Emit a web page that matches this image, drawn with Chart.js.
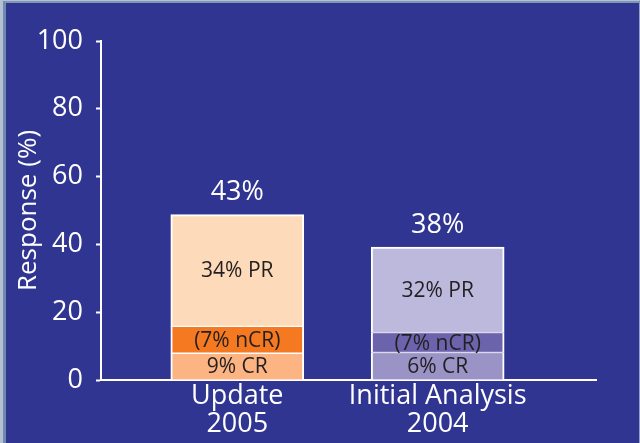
<!DOCTYPE html>
<html><head><meta charset="utf-8">
<script src="https://cdn.jsdelivr.net/npm/chart.js@4"></script>
<style>
html,body{margin:0;padding:0;background:#303592;}
#wrap{position:relative;width:640px;height:443px;overflow:hidden;}
canvas{display:block;}
#frame{position:absolute;left:0;top:0;width:640px;height:443px;box-sizing:border-box;
  border-left:3px solid #B4C1D3;border-top:1px solid #B4C1D3;border-right:1px solid #8FA2BE;pointer-events:none;}
#frame2{position:absolute;left:3px;top:1px;width:637px;height:442px;box-sizing:border-box;
  border-left:3px solid #7089B1;border-top:2px solid #7F95B6;pointer-events:none;}
</style></head>
<body><div id="wrap"><canvas id="c" width="640" height="443"></canvas><div id="frame"></div><div id="frame2"></div></div>
<script>
const categories = [['Update', '2005'], ['Initial Analysis', '2004']];
const crValues = [7.9, 8.1];
const ncrValues = [7.9, 5.9];
const prValues = [33.0, 25.2];
const crLabels = ['9% CR', '6% CR'];
const ncrLabels = ['(7% nCR)', '(7% nCR)'];
const prLabels = ['34% PR', '32% PR'];
const totalLabels = ['43%', '38%'];
const yTickLabels = [0, 20, 40, 60, 80, 100];

const crColors = ['#FBB482', '#9A93C6'];
const ncrColors = ['#F47920', '#6B63AB'];
const prColors = ['#FDDBBA', '#BDB9DD'];

const FONT = '"Open Sans", "Noto Sans", sans-serif';
const toXY = arr => arr.map((v, i) => ({ x: i + 1, y: v }));

const segLabels = [crLabels, ncrLabels, prLabels];

const labelPlugin = {
  id: 'segLabels',
  afterDatasetsDraw(chart) {
    const ctx = chart.ctx;
    ctx.save();
    ctx.textAlign = 'center';
    ctx.textBaseline = 'middle';
    ctx.fillStyle = '#231F20';
    ctx.font = '21px ' + FONT;
    chart.data.datasets.forEach((ds, di) => {
      const meta = chart.getDatasetMeta(di);
      meta.data.forEach((el, i) => {
        const p = el.getProps(['x', 'y', 'base'], true);
        ctx.fillText(segLabels[di][i], p.x, (p.y + p.base) / 2 + 1);
      });
    });
    const last = chart.getDatasetMeta(chart.data.datasets.length - 1);
    ctx.fillStyle = '#FFFFFF';
    ctx.font = '27px ' + FONT;
    last.data.forEach((el, i) => {
      const p = el.getProps(['x', 'y'], true);
      ctx.fillText(totalLabels[i], p.x, p.y - 22);
    });
    ctx.restore();
  }
};

const border = (top, bottom) => ({ top: top, bottom: bottom, left: 2, right: 2 });

new Chart(document.getElementById('c'), {
  type: 'bar',
  data: {
    datasets: [
      { label: 'CR', data: toXY(crValues), backgroundColor: crColors, borderColor: '#FFFFFF',
        borderWidth: border(1, 0), borderSkipped: false },
      { label: 'nCR', data: toXY(ncrValues), backgroundColor: ncrColors, borderColor: '#FFFFFF',
        borderWidth: border(1, 1), borderSkipped: false },
      { label: 'PR', data: toXY(prValues), backgroundColor: prColors, borderColor: '#FFFFFF',
        borderWidth: border(2, 1), borderSkipped: false }
    ]
  },
  options: {
    responsive: false,
    devicePixelRatio: 1,
    animation: false,
    barThickness: 133,
    layout: { padding: { left: 0, right: 44, top: 41, bottom: 0 } },
    plugins: { legend: { display: false }, tooltip: { enabled: false } },
    scales: {
      x: {
        type: 'linear',
        stacked: true,
        offset: false,
        bounds: 'data',
        min: 0.32,
        max: 2.79,
        afterBuildTicks(scale) { scale.ticks = categories.map((c, i) => ({ value: i + 1 })); },
        afterFit(scale) { scale.height = 63; },
        grid: { display: true, offset: false, drawOnChartArea: false, drawTicks: false, color: 'rgba(0,0,0,0)' },
        border: { display: true, color: '#FFFFFF', width: 2 },
        ticks: {
          color: '#FFFFFF',
          padding: 3,
          maxRotation: 0,
          autoSkip: false,
          font: { family: FONT, size: 27, lineHeight: 1.02 },
          callback: (v) => categories[Math.round(v) - 1] || ''
        }
      },
      y: {
        stacked: true,
        min: 0,
        max: 100,
        afterFit(scale) { scale.width = 101; },
        grid: { display: true, drawOnChartArea: false, drawTicks: true, tickLength: 5, color: '#FFFFFF', tickWidth: 2 },
        border: { display: true, color: '#FFFFFF', width: 2 },
        ticks: {
          stepSize: 10,
          color: '#FFFFFF',
          padding: 13,
          font: { family: FONT, size: 27 },
          callback: (v) => yTickLabels.includes(v) ? String(v) : ''
        },
        title: {
          display: true,
          text: 'Response (%)',
          color: '#FFFFFF',
          font: { family: FONT, size: 26 },
          padding: { top: 13, bottom: 0 }
        }
      }
    }
  },
  plugins: [labelPlugin]
});
</script>
</body></html>
